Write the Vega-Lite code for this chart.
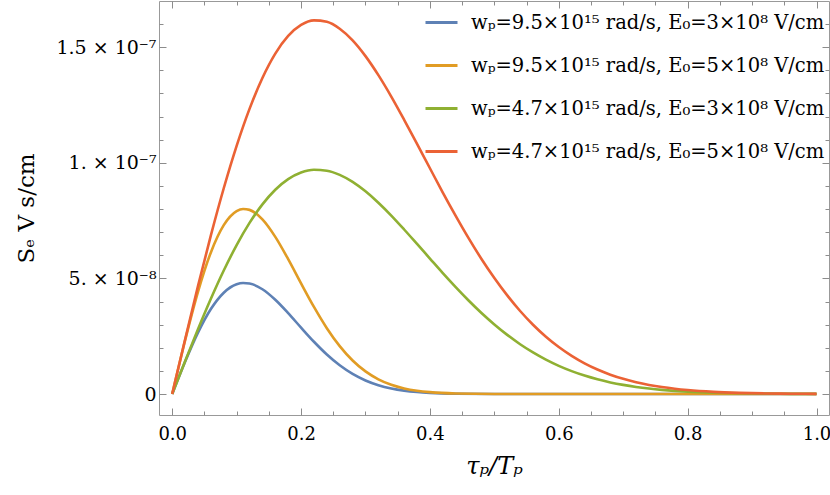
{
  "$schema": "https://vega.github.io/schema/vega-lite/v6.json",
  "autosize": {"type": "none"},
  "padding": {"left": 159, "top": 1, "right": 1, "bottom": 80},
  "width": 670,
  "height": 414,
  "data": {
    "values": [
      {"series": "1", "tau": 0, "S": 0},
      {"series": "1", "tau": 0.02, "S": 1.392e-8},
      {"series": "1", "tau": 0.04, "S": 2.653e-8},
      {"series": "1", "tau": 0.06, "S": 3.675e-8},
      {"series": "1", "tau": 0.08, "S": 4.382e-8},
      {"series": "1", "tau": 0.10, "S": 4.746e-8},
      {"series": "1", "tau": 0.11, "S": 4.802e-8},
      {"series": "1", "tau": 0.12, "S": 4.779e-8},
      {"series": "1", "tau": 0.14, "S": 4.532e-8},
      {"series": "1", "tau": 0.16, "S": 4.078e-8},
      {"series": "1", "tau": 0.18, "S": 3.499e-8},
      {"series": "1", "tau": 0.20, "S": 2.871e-8},
      {"series": "1", "tau": 0.22, "S": 2.260e-8},
      {"series": "1", "tau": 0.24, "S": 1.709e-8},
      {"series": "1", "tau": 0.26, "S": 1.243e-8},
      {"series": "1", "tau": 0.28, "S": 0.870e-8},
      {"series": "1", "tau": 0.30, "S": 0.587e-8},
      {"series": "1", "tau": 0.32, "S": 0.382e-8},
      {"series": "1", "tau": 0.34, "S": 0.240e-8},
      {"series": "1", "tau": 0.36, "S": 0.145e-8},
      {"series": "1", "tau": 0.38, "S": 0.085e-8},
      {"series": "1", "tau": 0.40, "S": 0.048e-8},
      {"series": "1", "tau": 0.44, "S": 0.013e-8},
      {"series": "1", "tau": 0.50, "S": 0.001e-8},
      {"series": "1", "tau": 0.60, "S": 0},
      {"series": "1", "tau": 0.80, "S": 0},
      {"series": "1", "tau": 1.00, "S": 0},

      {"series": "2", "tau": 0, "S": 0},
      {"series": "2", "tau": 0.02, "S": 2.320e-8},
      {"series": "2", "tau": 0.04, "S": 4.422e-8},
      {"series": "2", "tau": 0.06, "S": 6.125e-8},
      {"series": "2", "tau": 0.08, "S": 7.303e-8},
      {"series": "2", "tau": 0.10, "S": 7.910e-8},
      {"series": "2", "tau": 0.11, "S": 8.003e-8},
      {"series": "2", "tau": 0.12, "S": 7.965e-8},
      {"series": "2", "tau": 0.14, "S": 7.553e-8},
      {"series": "2", "tau": 0.16, "S": 6.797e-8},
      {"series": "2", "tau": 0.18, "S": 5.832e-8},
      {"series": "2", "tau": 0.20, "S": 4.785e-8},
      {"series": "2", "tau": 0.22, "S": 3.767e-8},
      {"series": "2", "tau": 0.24, "S": 2.848e-8},
      {"series": "2", "tau": 0.26, "S": 2.072e-8},
      {"series": "2", "tau": 0.28, "S": 1.450e-8},
      {"series": "2", "tau": 0.30, "S": 0.978e-8},
      {"series": "2", "tau": 0.32, "S": 0.637e-8},
      {"series": "2", "tau": 0.34, "S": 0.400e-8},
      {"series": "2", "tau": 0.36, "S": 0.242e-8},
      {"series": "2", "tau": 0.38, "S": 0.142e-8},
      {"series": "2", "tau": 0.40, "S": 0.080e-8},
      {"series": "2", "tau": 0.44, "S": 0.022e-8},
      {"series": "2", "tau": 0.50, "S": 0.002e-8},
      {"series": "2", "tau": 0.60, "S": 0},
      {"series": "2", "tau": 0.80, "S": 0},
      {"series": "2", "tau": 1.00, "S": 0},

      {"series": "3", "tau": 0, "S": 0},
      {"series": "3", "tau": 0.02, "S": 1.416e-8},
      {"series": "3", "tau": 0.04, "S": 2.799e-8},
      {"series": "3", "tau": 0.06, "S": 4.117e-8},
      {"series": "3", "tau": 0.08, "S": 5.340e-8},
      {"series": "3", "tau": 0.10, "S": 6.441e-8},
      {"series": "3", "tau": 0.12, "S": 7.401e-8},
      {"series": "3", "tau": 0.14, "S": 8.202e-8},
      {"series": "3", "tau": 0.16, "S": 8.835e-8},
      {"series": "3", "tau": 0.18, "S": 9.293e-8},
      {"series": "3", "tau": 0.20, "S": 9.579e-8},
      {"series": "3", "tau": 0.22, "S": 9.698e-8},
      {"series": "3", "tau": 0.24, "S": 9.660e-8},
      {"series": "3", "tau": 0.26, "S": 9.481e-8},
      {"series": "3", "tau": 0.28, "S": 9.178e-8},
      {"series": "3", "tau": 0.30, "S": 8.769e-8},
      {"series": "3", "tau": 0.32, "S": 8.275e-8},
      {"series": "3", "tau": 0.34, "S": 7.719e-8},
      {"series": "3", "tau": 0.36, "S": 7.116e-8},
      {"series": "3", "tau": 0.38, "S": 6.490e-8},
      {"series": "3", "tau": 0.40, "S": 5.859e-8},
      {"series": "3", "tau": 0.42, "S": 5.229e-8},
      {"series": "3", "tau": 0.44, "S": 4.624e-8},
      {"series": "3", "tau": 0.46, "S": 4.046e-8},
      {"series": "3", "tau": 0.48, "S": 3.505e-8},
      {"series": "3", "tau": 0.50, "S": 3.011e-8},
      {"series": "3", "tau": 0.52, "S": 2.559e-8},
      {"series": "3", "tau": 0.54, "S": 2.154e-8},
      {"series": "3", "tau": 0.56, "S": 1.798e-8},
      {"series": "3", "tau": 0.58, "S": 1.487e-8},
      {"series": "3", "tau": 0.60, "S": 1.219e-8},
      {"series": "3", "tau": 0.62, "S": 0.990e-8},
      {"series": "3", "tau": 0.64, "S": 0.796e-8},
      {"series": "3", "tau": 0.66, "S": 0.635e-8},
      {"series": "3", "tau": 0.68, "S": 0.502e-8},
      {"series": "3", "tau": 0.70, "S": 0.394e-8},
      {"series": "3", "tau": 0.72, "S": 0.306e-8},
      {"series": "3", "tau": 0.74, "S": 0.236e-8},
      {"series": "3", "tau": 0.76, "S": 0.180e-8},
      {"series": "3", "tau": 0.78, "S": 0.136e-8},
      {"series": "3", "tau": 0.80, "S": 0.102e-8},
      {"series": "3", "tau": 0.84, "S": 0.056e-8},
      {"series": "3", "tau": 0.88, "S": 0.030e-8},
      {"series": "3", "tau": 0.92, "S": 0.015e-8},
      {"series": "3", "tau": 0.96, "S": 0.007e-8},
      {"series": "3", "tau": 1.00, "S": 0.004e-8},

      {"series": "4", "tau": 0, "S": 0},
      {"series": "4", "tau": 0.02, "S": 2.360e-8},
      {"series": "4", "tau": 0.04, "S": 4.665e-8},
      {"series": "4", "tau": 0.06, "S": 6.862e-8},
      {"series": "4", "tau": 0.08, "S": 8.900e-8},
      {"series": "4", "tau": 0.10, "S": 10.735e-8},
      {"series": "4", "tau": 0.12, "S": 12.335e-8},
      {"series": "4", "tau": 0.14, "S": 13.670e-8},
      {"series": "4", "tau": 0.16, "S": 14.725e-8},
      {"series": "4", "tau": 0.18, "S": 15.488e-8},
      {"series": "4", "tau": 0.20, "S": 15.965e-8},
      {"series": "4", "tau": 0.22, "S": 16.163e-8},
      {"series": "4", "tau": 0.24, "S": 16.100e-8},
      {"series": "4", "tau": 0.26, "S": 15.802e-8},
      {"series": "4", "tau": 0.28, "S": 15.297e-8},
      {"series": "4", "tau": 0.30, "S": 14.615e-8},
      {"series": "4", "tau": 0.32, "S": 13.792e-8},
      {"series": "4", "tau": 0.34, "S": 12.865e-8},
      {"series": "4", "tau": 0.36, "S": 11.860e-8},
      {"series": "4", "tau": 0.38, "S": 10.817e-8},
      {"series": "4", "tau": 0.40, "S": 9.765e-8},
      {"series": "4", "tau": 0.42, "S": 8.715e-8},
      {"series": "4", "tau": 0.44, "S": 7.707e-8},
      {"series": "4", "tau": 0.46, "S": 6.743e-8},
      {"series": "4", "tau": 0.48, "S": 5.842e-8},
      {"series": "4", "tau": 0.50, "S": 5.018e-8},
      {"series": "4", "tau": 0.52, "S": 4.265e-8},
      {"series": "4", "tau": 0.54, "S": 3.590e-8},
      {"series": "4", "tau": 0.56, "S": 2.997e-8},
      {"series": "4", "tau": 0.58, "S": 2.478e-8},
      {"series": "4", "tau": 0.60, "S": 2.032e-8},
      {"series": "4", "tau": 0.62, "S": 1.650e-8},
      {"series": "4", "tau": 0.64, "S": 1.327e-8},
      {"series": "4", "tau": 0.66, "S": 1.058e-8},
      {"series": "4", "tau": 0.68, "S": 0.837e-8},
      {"series": "4", "tau": 0.70, "S": 0.657e-8},
      {"series": "4", "tau": 0.72, "S": 0.510e-8},
      {"series": "4", "tau": 0.74, "S": 0.393e-8},
      {"series": "4", "tau": 0.76, "S": 0.300e-8},
      {"series": "4", "tau": 0.78, "S": 0.227e-8},
      {"series": "4", "tau": 0.80, "S": 0.170e-8},
      {"series": "4", "tau": 0.84, "S": 0.093e-8},
      {"series": "4", "tau": 0.88, "S": 0.050e-8},
      {"series": "4", "tau": 0.92, "S": 0.025e-8},
      {"series": "4", "tau": 0.96, "S": 0.012e-8},
      {"series": "4", "tau": 1.00, "S": 0.006e-8}
    ]
  },
  "layer": [
    {
      "mark": {"type": "line", "strokeWidth": 2.6, "interpolate": "monotone"},
      "encoding": {
        "x": {
          "field": "tau", "type": "quantitative",
          "scale": {"domain": [-0.0205, 1.0194], "nice": false, "zero": false},
          "axis": {"orient": "bottom", "values": [0, 0.2, 0.4, 0.6, 0.8, 1], "format": ".1f", "ticks": true, "tickSize": -7,
                   "labelPadding": 17, "labelFontSize": 18, "title": "τₚ/Tₚ", "titleFontStyle": "italic",
                   "titleFontSize": 24, "titlePadding": 11}
        },
        "y": {
          "field": "S", "type": "quantitative",
          "scale": {"domain": [-0.908e-8, 1.70e-7], "nice": false, "zero": false},
          "axis": {"orient": "left", "values": [0, 5e-8, 1e-7, 1.5e-7], "ticks": true, "tickSize": -7, "labelPadding": 10,
                   "labelExpr": "datum.value < 1e-9 ? '0' : datum.value < 7e-8 ? '5. × 10⁻⁸' : datum.value < 1.2e-7 ? '1. × 10⁻⁷' : '1.5 × 10⁻⁷'",
                   "title": "Sₑ   V s/cm", "titleFontSize": 23, "titlePadding": 17}
        },
        "color": {
          "field": "series", "type": "nominal",
          "scale": {"domain": ["1", "2", "3", "4"], "range": ["#5E81B5", "#E19C24", "#8FB032", "#EB6235"]},
          "legend": {
            "title": null,
            "labelExpr": "datum.label == '1' ? 'wₚ=9.5×10¹⁵ rad/s, E₀=3×10⁸ V/cm' : datum.label == '2' ? 'wₚ=9.5×10¹⁵ rad/s, E₀=5×10⁸ V/cm' : datum.label == '3' ? 'wₚ=4.7×10¹⁵ rad/s, E₀=3×10⁸ V/cm' : 'wₚ=4.7×10¹⁵ rad/s, E₀=5×10⁸ V/cm'"
          }
        }
      }
    },
    {
      "mark": {"type": "point", "opacity": 0},
      "encoding": {
        "x": {"field": "tau", "type": "quantitative",
              "axis": {"orient": "bottom", "values": [0.05, 0.1, 0.15, 0.25, 0.3, 0.35, 0.45, 0.5, 0.55, 0.65, 0.7, 0.75, 0.85, 0.9, 0.95], "labels": false, "title": null, "ticks": true, "tickSize": -4}},
        "y": {"field": "S", "type": "quantitative",
              "axis": {"orient": "left", "values": [1e-8, 2e-8, 3e-8, 4e-8, 6e-8, 7e-8, 8e-8, 9e-8, 1.1e-7, 1.2e-7, 1.3e-7, 1.4e-7, 1.6e-7], "labels": false, "title": null, "ticks": true, "tickSize": -4}}
      }
    },
    {
      "mark": {"type": "point", "opacity": 0},
      "encoding": {
        "x": {"field": "tau", "type": "quantitative",
              "axis": {"orient": "top", "values": [0, 0.2, 0.4, 0.6, 0.8, 1], "labels": false, "title": null, "ticks": true, "tickSize": -7}},
        "y": {"field": "S", "type": "quantitative",
              "axis": {"orient": "right", "values": [0, 5e-8, 1e-7, 1.5e-7], "labels": false, "title": null, "ticks": true, "tickSize": -7}}
      }
    },
    {
      "mark": {"type": "point", "opacity": 0},
      "encoding": {
        "x": {"field": "tau", "type": "quantitative",
              "axis": {"orient": "top", "values": [0.05, 0.1, 0.15, 0.25, 0.3, 0.35, 0.45, 0.5, 0.55, 0.65, 0.7, 0.75, 0.85, 0.9, 0.95], "labels": false, "title": null, "ticks": true, "tickSize": -4}},
        "y": {"field": "S", "type": "quantitative",
              "axis": {"orient": "right", "values": [1e-8, 2e-8, 3e-8, 4e-8, 6e-8, 7e-8, 8e-8, 9e-8, 1.1e-7, 1.2e-7, 1.3e-7, 1.4e-7, 1.6e-7], "labels": false, "title": null, "ticks": true, "tickSize": -4}}
      }
    }
  ],
  "resolve": {"axis": {"x": "independent", "y": "independent"}},
  "config": {
    "view": {"stroke": "#999999", "strokeWidth": 1},
    "axis": {
      "grid": false, "domain": false,
      "labelFont": "DejaVu Serif", "labelFontSize": 19, "labelColor": "#000000",
      "titleFont": "DejaVu Serif", "titleFontSize": 22, "titleFontWeight": "normal", "titleColor": "#000000",
      "tickColor": "#8c8c8c", "tickWidth": 1, "labelFlush": false
    },
    "legend": {
      "orient": "top-right", "offset": 4, "padding": 0,
      "labelFont": "DejaVu Serif", "labelFontSize": 19.5, "labelColor": "#000000", "labelLimit": 500,
      "symbolType": "stroke", "symbolSize": 1024, "symbolStrokeWidth": 3,
      "rowPadding": 16, "labelOffset": 12
    }
  }
}
